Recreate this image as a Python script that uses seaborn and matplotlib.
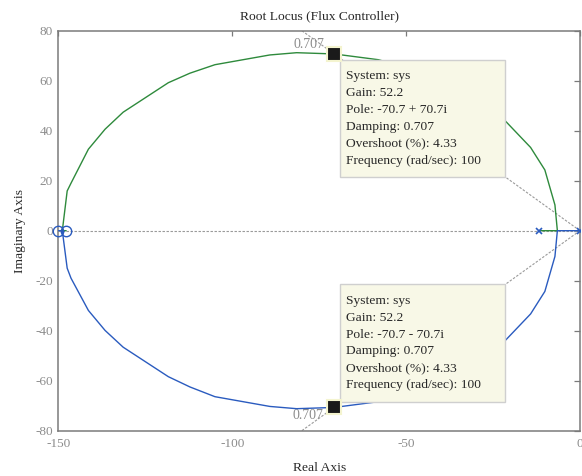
import numpy as np
import pandas as pd
import matplotlib
matplotlib.use("Agg")
import matplotlib.pyplot as plt
from matplotlib.patches import Rectangle
import seaborn as sns

# ---------------- datos ----------------
# rama verde (parte superior): polo -11.9 -> ruptura -6.5 -> arco -> cero -147.8
green_real = [-11.9, -6.5, -7.2, -10.1, -14.2, -21.4, -28.0, -35.0, -47.0, -58.0,
              -70.7, -81.5, -89.2, -105.0, -112.2, -118.4, -131.4, -136.6, -141.4,
              -146.4, -147.5, -148.9, -147.8]
green_imag = [0.0, 0.0, 10.3, 24.3, 33.3, 43.8, 51.0, 57.0, 64.2, 68.4,
              70.7, 71.2, 70.3, 66.4, 63.0, 59.2, 47.4, 40.6, 32.6,
              19.0, 15.9, 0.0, 0.0]
# rama azul (parte inferior): polo 0 -> ruptura -6.5 -> arco -> cero -150
blue_real = [0.0, -6.5, -7.2, -10.1, -14.2, -21.4, -28.0, -35.0, -47.0, -58.0,
             -70.7, -81.5, -89.2, -105.0, -112.2, -118.4, -131.4, -136.6, -141.4,
             -146.4, -147.5, -148.9, -150.0]
blue_imag = [0.0, 0.0, -10.3, -24.3, -33.3, -43.8, -51.0, -57.0, -64.2, -68.4,
             -70.7, -71.2, -70.3, -66.4, -62.5, -58.4, -46.6, -39.9, -31.9,
             -19.0, -15.0, 0.0, 0.0]

poles_real = [0.0, -11.9]
zeros_real = [-150.0, -147.8]

tip_poles = [(-70.7, 70.7), (-70.7, -70.7)]
tip_texts = [
    "System: sys\nGain: 52.2\nPole: -70.7 + 70.7i\nDamping: 0.707\n"
    "Overshoot (%): 4.33\nFrequency (rad/sec): 100",
    "System: sys\nGain: 52.2\nPole: -70.7 - 70.7i\nDamping: 0.707\n"
    "Overshoot (%): 4.33\nFrequency (rad/sec): 100",
]

x_ticks = [-150, -100, -50, 0]
y_ticks = [-80, -60, -40, -20, 0, 20, 40, 60, 80]

# ---------------- estilo ----------------
sns.set_style("white")
plt.rcParams["font.family"] = ["Liberation Serif", "DejaVu Serif"]

GREEN = "#2e8a3c"
BLUE = "#2a5bbf"
GRAY = "#8c8c8c"
GRID = "#9a9a9a"

fig = plt.figure(figsize=(5.82, 4.76), dpi=100)
ax = fig.add_axes([0.1005, 0.0952, 0.896, 0.8403])

# lineas de amortiguamiento (sgrid)
ax.axhline(0, color=GRID, lw=0.8, ls=(0, (2.2, 1.4)), zorder=1)
ax.plot([0, -80], [0, 80], color=GRID, lw=0.8, ls=(0, (2.2, 1.4)), zorder=1)
ax.plot([0, -80], [0, -80], color=GRID, lw=0.8, ls=(0, (2.2, 1.4)), zorder=1)
ax.text(-73.4, 74.4, "0.707", ha="right", va="center", fontsize=10, color=GRAY, zorder=2)
ax.text(-73.8, -73.8, "0.707", ha="right", va="center", fontsize=10, color=GRAY, zorder=2)

# ramas del lugar de las raices
df_g = pd.DataFrame({"re": green_real, "im": green_imag})
df_b = pd.DataFrame({"re": blue_real, "im": blue_imag})
sns.lineplot(data=df_g, x="re", y="im", sort=False, color=GREEN, lw=1.0, ax=ax, zorder=3)
sns.lineplot(data=df_b, x="re", y="im", sort=False, color=BLUE, lw=1.0, ax=ax, zorder=3)

# polos y ceros
ax.plot(poles_real, [0] * len(poles_real), ls="none", marker="x", ms=5, mew=1.2,
        color=BLUE, zorder=4)
ax.plot(zeros_real, [0] * len(zeros_real), ls="none", marker="o", ms=7.5, mew=1.0,
        mfc="none", mec=BLUE, zorder=4, clip_on=False)

# cuadros de datos (data tips)
box_left, box_right = -69.1, -21.5
box_rows = [(21.5, 68.3), (-68.4, -21.4)]
for (px, py), txt, (y0, y1) in zip(tip_poles, tip_texts, box_rows):
    ax.add_patch(Rectangle((box_left, y0), box_right - box_left, y1 - y0,
                           facecolor="#f8f8e7", edgecolor="#cfcfcf", lw=1.0, zorder=6))
    ax.text(box_left + 1.7, (y0 + y1) / 2, txt, ha="left", va="center",
            fontsize=9.7, linespacing=1.54, color="#262626", zorder=7)
    ax.plot([px], [py], marker="s", ms=9.5, mfc="#1a1a1a", mec="#f4f4cf", mew=1.5,
            ls="none", zorder=8)

ax.set_xlim(-150, 0)
ax.set_ylim(-80, 80)
ax.set_xticks(x_ticks)
ax.set_yticks(y_ticks)
ax.set_xticklabels([str(v) for v in x_ticks])
ax.set_yticklabels([str(v) for v in y_ticks])

for s in ax.spines.values():
    s.set_color("#7a7a7a")
    s.set_linewidth(1.1)
ax.tick_params(axis="both", direction="in", colors="#7a7a7a", labelcolor=GRAY,
               labelsize=9.5, top=True, right=True, width=0.9)
ax.tick_params(axis="x", length=3.5, pad=5)
ax.tick_params(axis="y", length=4.5, pad=4)

ax.set_title("Root Locus (Flux Controller)", fontsize=9.7, color="#262626", pad=8)
ax.set_xlabel("Real Axis", fontsize=9.7, color="#262626", labelpad=9)
ax.set_ylabel("Imaginary Axis", fontsize=9.7, color="#262626", labelpad=7)

fig.savefig("out.png", dpi=100)
